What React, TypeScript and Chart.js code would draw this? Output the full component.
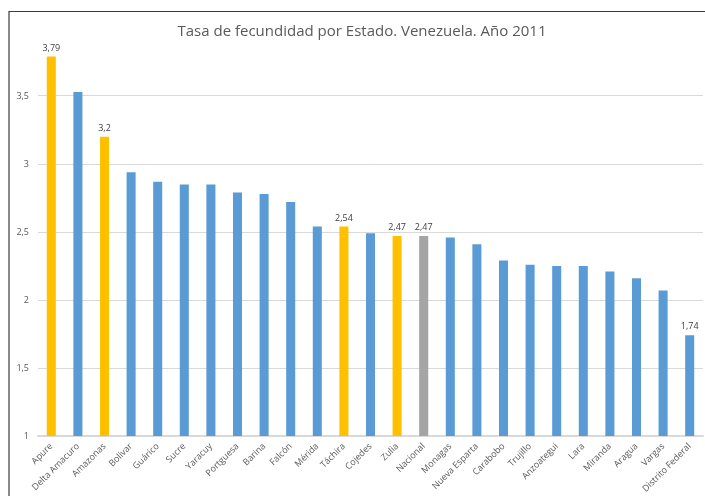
import React, { useEffect, useRef } from "react";
import { Chart, registerables } from "chart.js";

Chart.register(...registerables);

const TITLE = "Tasa de fecundidad por Estado. Venezuela. Año 2011";

const categories = [
  "Apure", "Delta Amacuro", "Amazonas", "Bolivar", "Guárico", "Sucre", "Yaracuy",
  "Portguesa", "Barina", "Falcón", "Mérida", "Táchira", "Cojedes", "Zulia",
  "Nacional", "Monagas", "Nueva Esparta", "Carabobo", "Trujillo", "Anzoategui",
  "Lara", "Miranda", "Aragua", "Vargas", "Distrito Federal",
];

const values = [
  3.79, 3.53, 3.2, 2.94, 2.87, 2.85, 2.85, 2.79, 2.78, 2.72, 2.54, 2.54, 2.49, 2.47,
  2.47, 2.46, 2.41, 2.29, 2.26, 2.25, 2.25, 2.21, 2.16, 2.07, 1.74,
];

// kind: 0 = normal, 1 = highlighted state, 2 = national
const kinds = [1, 0, 1, 0, 0, 0, 0, 0, 0, 0, 0, 1, 0, 1, 2, 0, 0, 0, 0, 0, 0, 0, 0, 0, 0];

const showLabel = [
  true, false, true, false, false, false, false, false, false, false, false, true, false, true,
  true, false, false, false, false, false, false, false, false, false, true,
];

const yMin = 1;
const yMax = 4;
const yStep = 0.5;

const kindColors = ["#5B9BD5", "#FFC000", "#A5A5A5"];

const fmt = (v: number) => String(v).replace(".", ",");

const framePlugin = {
  id: "frame",
  beforeDraw(chart: any) {
    const ctx = chart.ctx;
    ctx.save();
    ctx.fillStyle = "#ffffff";
    ctx.fillRect(0, 0, chart.width, chart.height);
    ctx.strokeStyle = "#3a3a3a";
    ctx.lineWidth = 1.2;
    ctx.beginPath();
    ctx.moveTo(9, chart.height + 5);
    ctx.lineTo(9, 11.5);
    ctx.lineTo(chart.width + 5, 11.5);
    ctx.stroke();
    ctx.restore();
  },
  afterDraw(chart: any) {
    const ctx = chart.ctx;
    ctx.save();
    ctx.fillStyle = "#595959";
    ctx.font = "15px 'Open Sans'";
    ctx.textAlign = "center";
    ctx.textBaseline = "middle";
    ctx.fillText(TITLE, 362, 32);
    ctx.restore();
  },
};

const labelPlugin = {
  id: "barLabels",
  afterDatasetsDraw(chart: any) {
    const ctx = chart.ctx;
    const meta = chart.getDatasetMeta(0);
    ctx.save();
    ctx.fillStyle = "#404040";
    ctx.font = "9px 'Open Sans'";
    ctx.textAlign = "center";
    ctx.textBaseline = "bottom";
    meta.data.forEach((el: any, i: number) => {
      if (!showLabel[i]) return;
      ctx.fillText(fmt(values[i]), el.x, el.y - 4);
    });
    ctx.restore();
  },
};

export default function App() {
  const ref = useRef<HTMLCanvasElement>(null);

  useEffect(() => {
    if (!ref.current) return;
    const chart = new Chart(ref.current, {
      type: "bar",
      data: {
        labels: categories,
        datasets: [
          {
            data: values,
            backgroundColor: kinds.map((k) => kindColors[k]),
            borderWidth: 0,
            barPercentage: 0.34,
            categoryPercentage: 1,
          },
        ],
      },
      options: {
        responsive: false,
        animation: false,
        layout: { padding: { left: 0, top: 28, right: 2, bottom: 0 } },
        plugins: {
          legend: { display: false },
          title: { display: false },
          tooltip: { enabled: false },
        },
        scales: {
          x: {
            grid: { display: false, drawTicks: false },
            border: { display: true, color: "#D9D9D9", width: 1.5 },
            ticks: {
              color: "#595959",
              font: { family: "'Open Sans'", size: 9 },
              minRotation: 45,
              maxRotation: 45,
              autoSkip: false,
              padding: 5,
            },
            afterFit(scale: any) {
              scale.height = 60;
            },
          },
          y: {
            min: yMin,
            max: yMax,
            grid: {
              drawTicks: false,
              color: (c: any) => (c.tick && c.tick.value >= yMax ? "rgba(0,0,0,0)" : "#D9D9D9"),
              lineWidth: 1,
            },
            border: { display: false },
            ticks: {
              stepSize: yStep,
              color: "#595959",
              font: { family: "'Open Sans'", size: 9 },
              padding: 9,
              callback: (v: any) => (Number(v) >= yMax ? "" : fmt(Number(v))),
            },
            afterFit(scale: any) {
              scale.width = 38;
            },
          },
        },
      },
      plugins: [framePlugin, labelPlugin],
    });
    return () => chart.destroy();
  }, []);

  return (
    <div style={{ position: "absolute", left: 0, top: 0, width: 705, height: 496 }}>
      <canvas ref={ref} width={705} height={496} style={{ width: 705, height: 496 }} />
    </div>
  );
}
